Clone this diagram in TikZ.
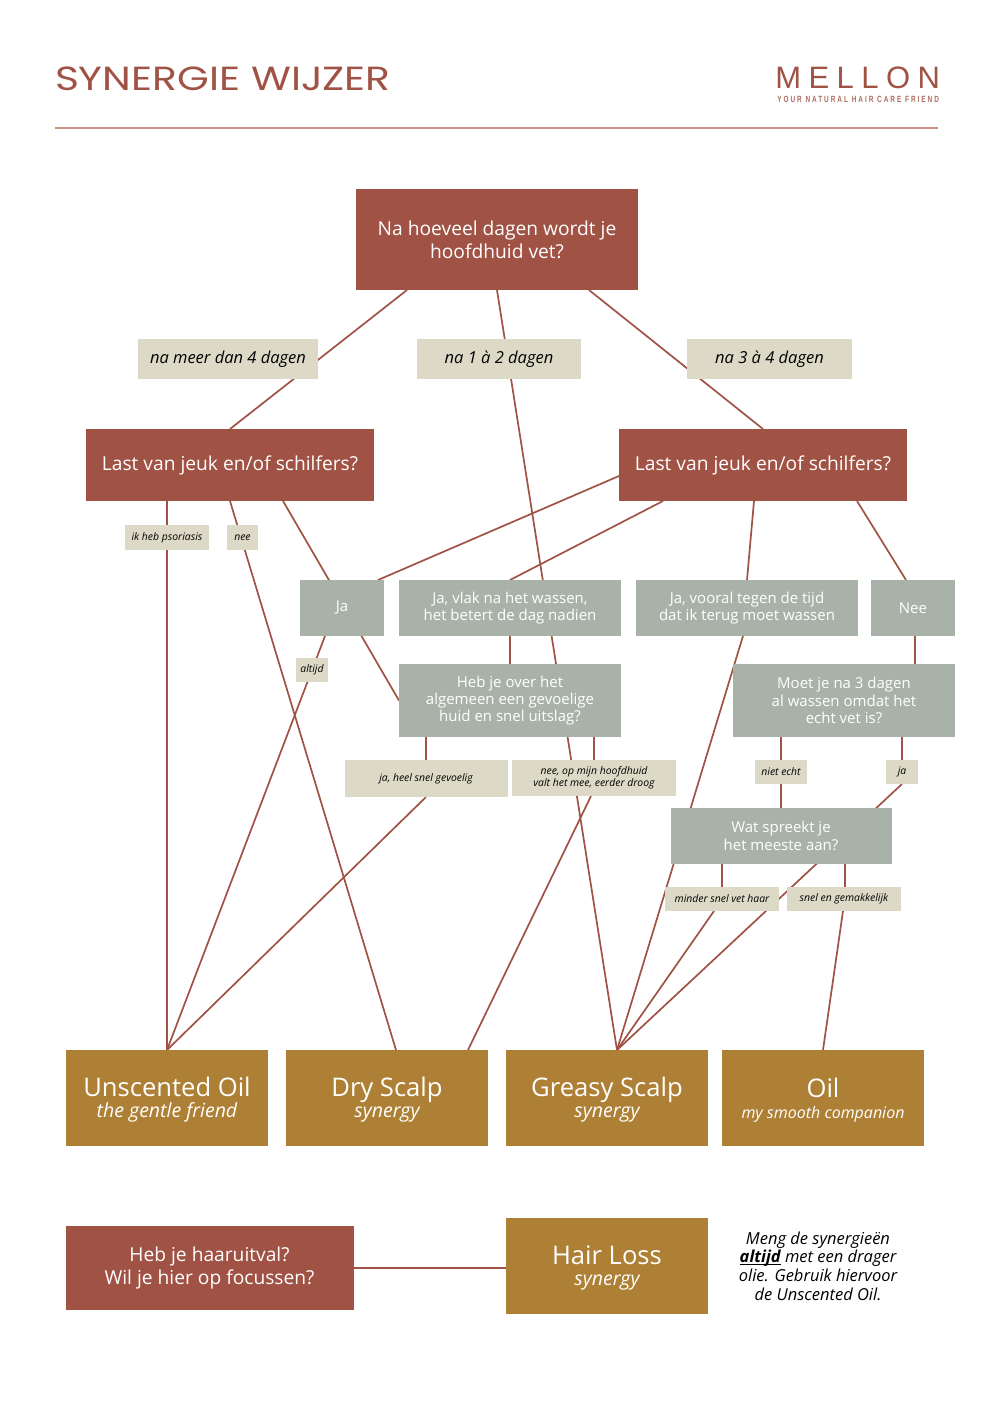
\documentclass[tikz,border=0pt]{standalone}
\usepackage{fontspec}
\setmainfont{Open Sans}
\newfontfamily\headfont{Poppins}
\newfontfamily\logofont{Liberation Sans}
\usetikzlibrary{backgrounds}
\definecolor{brick}{HTML}{A05244}
\definecolor{sage}{HTML}{A9B2A8}
\definecolor{sand}{HTML}{DCD9C6}
\definecolor{ochre}{HTML}{AE8035}
\definecolor{softrule}{HTML}{CC8F84}
\newcommand{\goldtext}[2]{{\fontsize{25.6}{26}\selectfont\rule{0pt}{23pt}#1}\\[-3pt]{\itshape #2}}

\begin{document}
\begin{tikzpicture}[x=1pt, y=-1pt,
    every node/.style={inner sep=0pt, outer sep=0pt, align=center},
    link/.style={draw=brick, line width=1.7pt},
    redbox/.style={fill=brick, text=white, font=\fontsize{19.2}{23}\selectfont},
    sagebox/.style={fill=sage, text=white, font=\fontsize{15}{17.3}\selectfont},
    bigtag/.style={fill=sand, text=black, font=\itshape\fontsize{16.5}{20}\selectfont},
    smalltag/.style={fill=sand, text=black, font=\itshape\fontsize{10.4}{12}\selectfont},
    goldbox/.style={fill=ochre, text=white, minimum width=202pt, minimum height=96pt, font=\fontsize{19.5}{24}\selectfont}]
    \useasboundingbox (0,0) rectangle (1000,1414);
    \node[anchor=west, text=brick, font=\headfont\fontsize{33.5}{36}\selectfont] (title) at (55,79) {\scalebox{1.22}[1]{SYNERGIE WIJZER}};
    \node[anchor=east, text=brick, font=\logofont\fontsize{31}{32}\selectfont] (logo) at (940,77.5) {\addfontfeature{LetterSpace=24}MELLON};
    \node[anchor=east, text=brick!85, font=\logofont\bfseries\fontsize{9}{10}\selectfont] (slogan) at (939,99.5) {\scalebox{.72}[1]{\addfontfeature{LetterSpace=30}YOUR NATURAL HAIR CARE FRIEND}};
    \coordinate (ruleL) at (55,128);
    \coordinate (ruleR) at (938,128);
    \draw[draw=softrule, line width=1.2pt] (ruleL) -- (ruleR);

    \node[redbox, minimum width=282pt, minimum height=101pt] (top) at (497,239.5) {Na hoeveel dagen wordt je\\hoofdhuid vet?};
    \node[bigtag, minimum width=180pt, minimum height=40pt] (tagfour) at (228,359) {na meer dan 4 dagen};
    \node[bigtag, minimum width=164pt, minimum height=40pt] (tagone) at (499,359) {na 1 à 2 dagen};
    \node[bigtag, minimum width=165pt, minimum height=40pt] (tagthree) at (769.5,359) {na 3 à 4 dagen};
    \node[redbox, minimum width=288pt, minimum height=72pt] (itchL) at (230,465) {Last van jeuk en/of schilfers?};
    \node[redbox, minimum width=288pt, minimum height=72pt] (itchR) at (763,465) {Last van jeuk en/of schilfers?};

    \node[smalltag, minimum width=84pt, minimum height=25pt] (psor) at (167,537.5) {ik heb psoriasis};
    \node[smalltag, minimum width=31pt, minimum height=25pt] (nee) at (242.5,537.5) {nee};
    \node[sagebox, minimum width=84pt, minimum height=56pt] (ja) at (342,608) {Ja};
    \node[sagebox, minimum width=222pt, minimum height=56pt] (javlak) at (510,608) {Ja, vlak na het wassen,\\het betert de dag nadien};
    \node[sagebox, minimum width=222pt, minimum height=56pt] (javooral) at (747,608) {Ja, vooral tegen de tijd\\dat ik terug moet wassen};
    \node[sagebox, minimum width=84pt, minimum height=56pt] (nope) at (913,608) {Nee};
    \node[smalltag, minimum width=32pt, minimum height=24pt] (altijd) at (312,670) {altijd};
    \node[sagebox, minimum width=222pt, minimum height=73pt] (huid) at (510,700.5) {Heb je over het\\algemeen een gevoelige\\huid en snel uitslag?};
    \node[sagebox, minimum width=222pt, minimum height=73pt] (moet) at (844,700.5) {Moet je na 3 dagen\\al wassen omdat het\\echt vet is?};
    \node[smalltag, minimum width=163pt, minimum height=37pt] (heel) at (426,778.5) {ja, heel snel gevoelig};
    \node[smalltag, minimum width=164pt, minimum height=36pt] (droog) at (594,778) {nee, op mijn hoofdhuid\\valt het mee, eerder droog};
    \node[smalltag, minimum width=52pt, minimum height=24pt] (niet) at (781,772) {niet echt};
    \node[smalltag, minimum width=32pt, minimum height=24pt] (jaa) at (902,772) {ja};
    \node[sagebox, minimum width=221pt, minimum height=56pt] (wat) at (781,836) {Wat spreekt je\\het meeste aan?};
    \node[smalltag, minimum width=114pt, minimum height=24pt] (minder) at (722,899) {minder snel vet haar};
    \node[smalltag, minimum width=114pt, minimum height=24pt] (snel) at (844,899) {snel en gemakkelijk};

    \node[goldbox] (unscented) at (167,1098) {\goldtext{Unscented Oil}{the gentle friend}};
    \node[goldbox] (dry) at (387,1098) {\goldtext{Dry Scalp}{synergy}};
    \node[goldbox] (greasy) at (607,1098) {\goldtext{Greasy Scalp}{synergy}};
    \node[goldbox] (oil) at (823,1098) {\goldtext{Oil}{\fontsize{16}{24}\selectfont my smooth companion}};
    \node[redbox, minimum width=288pt, minimum height=84pt] (haar) at (209.5,1268) {Heb je haaruitval?\\Wil je hier op focussen?};
    \node[goldbox] (hair) at (607,1266) {\goldtext{Hair Loss}{synergy}};
    \node[text=black, font=\itshape\fontsize{16.5}{18.7}\selectfont] (note) at (818,1266) {Meng de synergieën\\\smash{\underline{\smash{\textbf{altijd}}}} met een drager\\olie. Gebruik hiervoor\\de Unscented Oil.};

    \begin{pgfonlayer}{background}
        \draw[link] ([xshift=-90pt]top.south) -- (itchL.north);
        \draw[link] (top.south) -- ([xshift=10pt]greasy.north);
        \draw[link] ([xshift=92pt]top.south) -- (itchR.north);
        \draw[link] ([xshift=-63pt]itchL.south) -- (unscented.north);
        \draw[link] (itchL.south) -- ([xshift=9pt]dry.north);
        \draw[link] ([xshift=53pt]itchL.south) -- (huid.west);
        \draw[link] (itchR.west |- 0,476) -- ([xshift=36pt]ja.north);
        \draw[link] ([xshift=-100pt]itchR.south) -- (javlak.north);
        \draw[link] ([xshift=-9pt]itchR.south) -- (javooral.north);
        \draw[link] ([xshift=94pt]itchR.south) -- ([xshift=-7pt]nope.north);
        \draw[link] ([xshift=-17pt]ja.south) -- (unscented.north);
        \draw[link] (javlak.south) -- (huid.north);
        \draw[link] ([xshift=-4pt]javooral.south) -- ([xshift=10pt]greasy.north);
        \draw[link] ([xshift=2pt]nope.south) -- ([xshift=71pt]moet.north);
        \draw[link] ([xshift=-84pt]huid.south) -- (heel.north);
        \draw[link] ([xshift=84pt]huid.south) -- (droog.north);
        \draw[link] (heel.south) -- (unscented.north);
        \draw[link] ([xshift=-3pt]droog.south) -- ([xshift=81pt]dry.north);
        \draw[link] ([xshift=-63pt]moet.south) -- (wat.north);
        \draw[link] ([xshift=58pt]moet.south) -- (jaa.north);
        \draw[link] (jaa.south) -- ([xshift=10pt]greasy.north);
        \draw[link] ([xshift=-59pt]wat.south) -- (minder.north);
        \draw[link] ([xshift=64pt]wat.south) -- ([xshift=1pt]snel.north);
        \draw[link] ([xshift=-8pt]minder.south) -- ([xshift=10pt]greasy.north);
        \draw[link] ([xshift=-1pt]snel.south) -- (oil.north);
        \draw[link] (haar.east) -- (hair.west |- haar.east);
    \end{pgfonlayer}
\end{tikzpicture}
\end{document}
